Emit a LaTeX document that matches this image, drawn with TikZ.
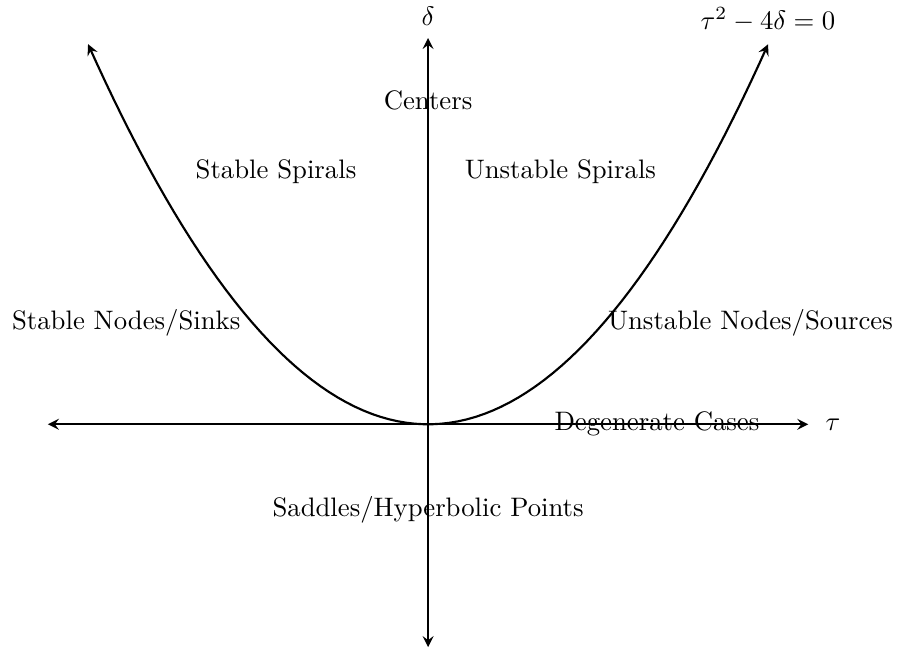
\documentclass[tikz,border=0pt]{standalone}
\usepackage{amsmath,amssymb}
\usepackage{tikz}
\usetikzlibrary{positioning}

\begin{document}
\begin{tikzpicture}[x=1cm, y=1cm, >=stealth,
  axis/.style={<->, thick},
  curve/.style={<->, thick},
  region/.style={inner sep=0pt}]
\useasboundingbox (-5.63,-2.96) rectangle (6.18,5.58);
\coordinate (west) at (-5,0);
\coordinate (east) at (5,0);
\coordinate (south) at (0,-2.93);
\coordinate (north) at (0,5.08);
\draw[axis] (west) -- (east);
\draw[axis] (south) -- (north);
\node[right=3pt of east] (tau) {$\tau$};
\node[above=1pt of north] (delta) {$\delta$};
\draw[curve, domain=-4.472:4.472, samples=80] plot (\x, {\x*\x/4});
\node (disc) at (4.47,5.32) {$\tau^2-4\delta=0$};
\node[region] (centers) at (0,4.26) {Centers};
\node[region] (sspir) at (-2,3.32) {Stable Spirals};
\node[region] (uspir) at (1.74,3.32) {Unstable Spirals};
\node[region] (snodes) at (-3.97,1.34) {Stable Nodes/Sinks};
\node[region] (unodes) at (4.24,1.34) {Unstable Nodes/Sources};
\node[region] (degen) at (3.01,0) {Degenerate Cases};
\node[region] (saddle) at (0,-1.13) {Saddles/Hyperbolic Points};
\end{tikzpicture}
\end{document}
